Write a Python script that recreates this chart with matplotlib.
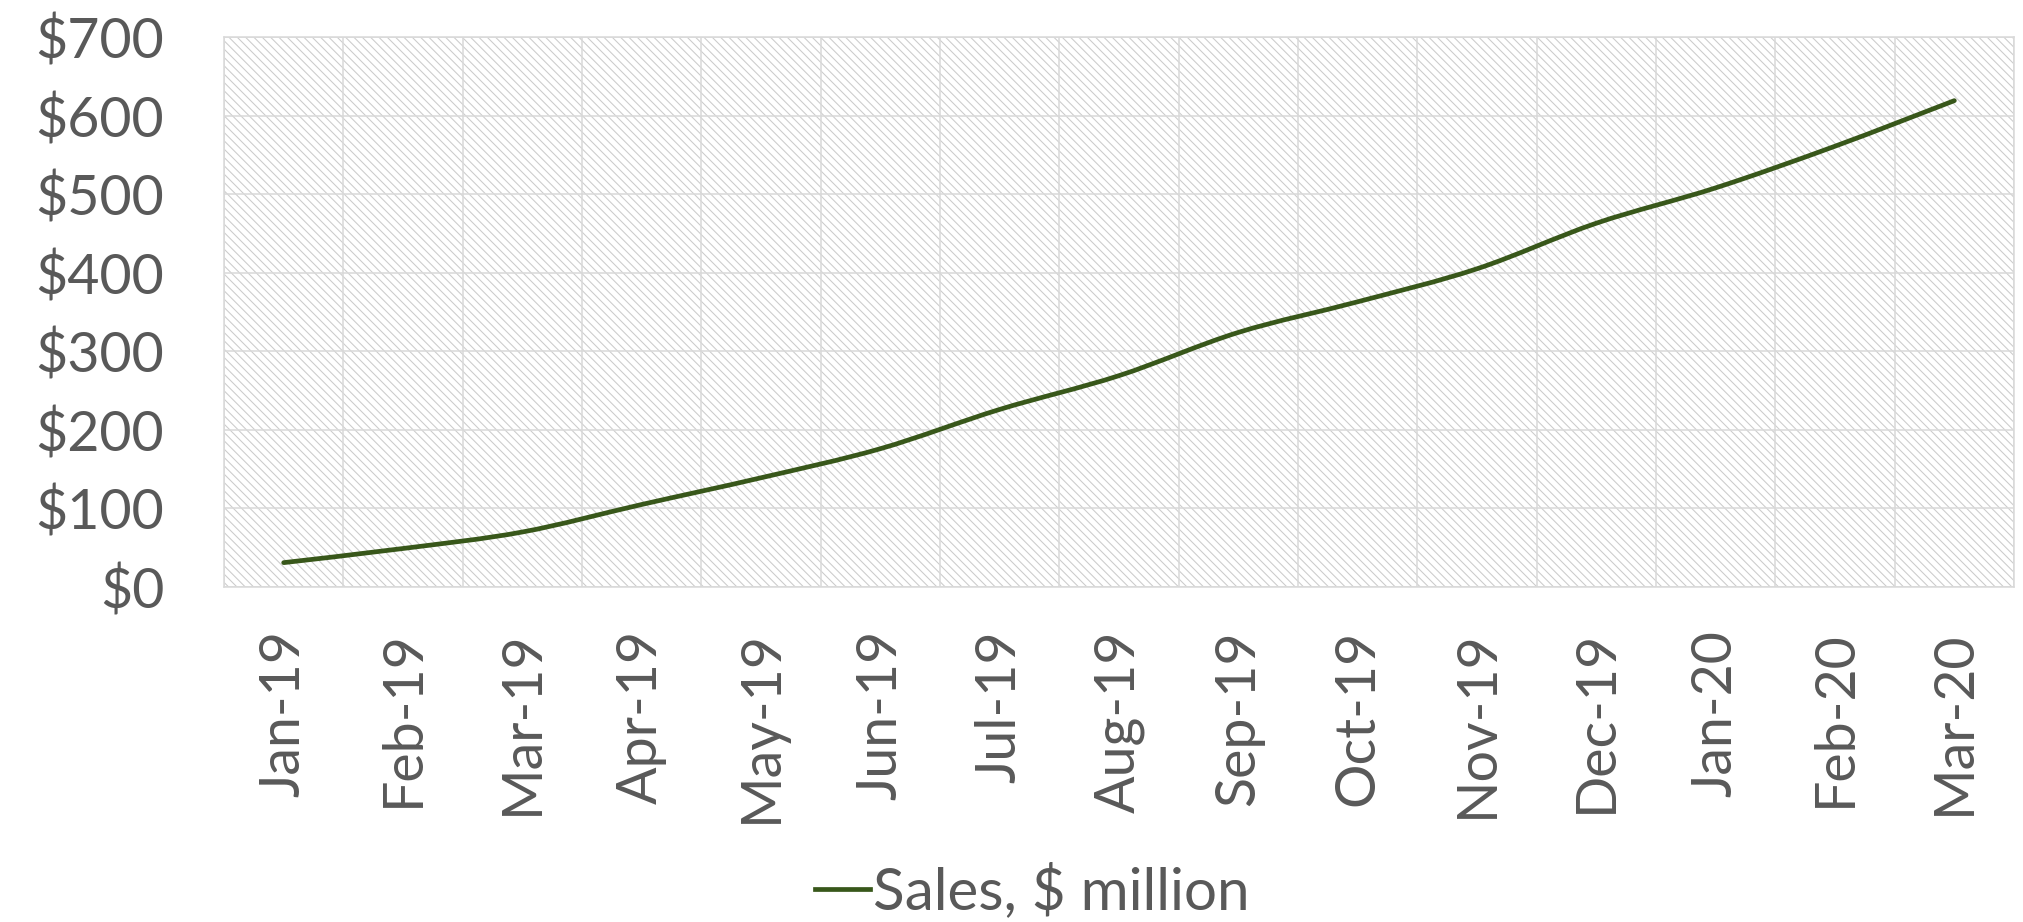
import matplotlib
matplotlib.use("Agg")
import matplotlib.pyplot as plt
from matplotlib.path import Path
from matplotlib.patches import PathPatch, Rectangle
from matplotlib.lines import Line2D
from matplotlib.ticker import FuncFormatter, MultipleLocator
import numpy as np

# ---- data ----
months = ["Jan-19", "Feb-19", "Mar-19", "Apr-19", "May-19", "Jun-19", "Jul-19",
          "Aug-19", "Sep-19", "Oct-19", "Nov-19", "Dec-19", "Jan-20", "Feb-20", "Mar-20"]
sales = [31, 49, 70, 105, 139, 176, 226, 269, 324, 363, 405, 463, 508, 561, 619]
series_name = "Sales, $ million"

TEXT = "#595959"
GRID = "#d9d9d9"
LINE = "#38571a"
FONT = ["Lato", "DejaVu Sans"]

plt.rcParams["font.family"] = FONT
plt.rcParams["hatch.color"] = "#cbcbcb"
plt.rcParams["hatch.linewidth"] = 0.75

W, H = 2023, 922
fig = plt.figure(figsize=(W / 100, H / 100), dpi=100)
ax = fig.add_axes([224 / W, 1 - 587 / H, (2014 - 224) / W, (587 - 37) / H])

# hatched plot area background
bg = Rectangle((0, 0), 1, 1, transform=ax.transAxes, facecolor="white",
               edgecolor="#cbcbcb", linewidth=0, hatch="\\\\\\\\", zorder=0.1)
if hasattr(bg, "set_hatchcolor"):
    bg.set_hatchcolor("#cbcbcb")
ax.add_patch(bg)

n = len(sales)
x = np.arange(n) + 0.5
y = np.array(sales, dtype=float)

# smoothed line (cubic Bezier through the data points)
verts = [(x[0], y[0])]
codes = [Path.MOVETO]
for i in range(n - 1):
    p0 = np.array([x[max(i - 1, 0)], y[max(i - 1, 0)]])
    p1 = np.array([x[i], y[i]])
    p2 = np.array([x[i + 1], y[i + 1]])
    p3 = np.array([x[min(i + 2, n - 1)], y[min(i + 2, n - 1)]])
    c1 = p1 + (p2 - p0) / 6.0
    c2 = p2 - (p3 - p1) / 6.0
    verts += [tuple(c1), tuple(c2), tuple(p2)]
    codes += [Path.CURVE4] * 3
curve = PathPatch(Path(verts, codes), fill=False, edgecolor=LINE, linewidth=3.4,
                  capstyle="round", joinstyle="round", zorder=3)
ax.add_patch(curve)

ax.set_xlim(0, n)
ax.set_ylim(0, 700)

FS = 40
ax.set_xticks(x)
ax.set_xticklabels(months, rotation=90, fontsize=FS, color=TEXT)
ax.set_xticks(np.arange(n + 1), minor=True)
ax.yaxis.set_major_locator(MultipleLocator(100))
ax.yaxis.set_major_formatter(FuncFormatter(lambda v, p: f"${v:,.0f}"))
ax.tick_params(axis="y", length=0, pad=43, labelsize=FS, labelcolor=TEXT)
ax.tick_params(axis="x", which="major", length=0, pad=31, labelsize=FS, labelcolor=TEXT)
ax.tick_params(axis="x", which="minor", length=0)

ax.set_axisbelow(True)
ax.grid(axis="y", which="major", color=GRID, linewidth=1.1, zorder=0.5)
ax.grid(axis="x", which="minor", color=GRID, linewidth=1.1, zorder=0.5)
ax.grid(axis="x", which="major", visible=False)

for s in ax.spines.values():
    s.set_color(GRID)
    s.set_linewidth(1.1)

handle = Line2D([], [], color=LINE, linewidth=3.4)
fig.legend([handle], [series_name], loc="center", bbox_to_anchor=(1032 / W, 31 / H),
           frameon=False, fontsize=42, labelcolor=TEXT, handlelength=0.95,
           handletextpad=0.05, borderpad=0, borderaxespad=0)

fig.savefig("out.png", dpi=100)
